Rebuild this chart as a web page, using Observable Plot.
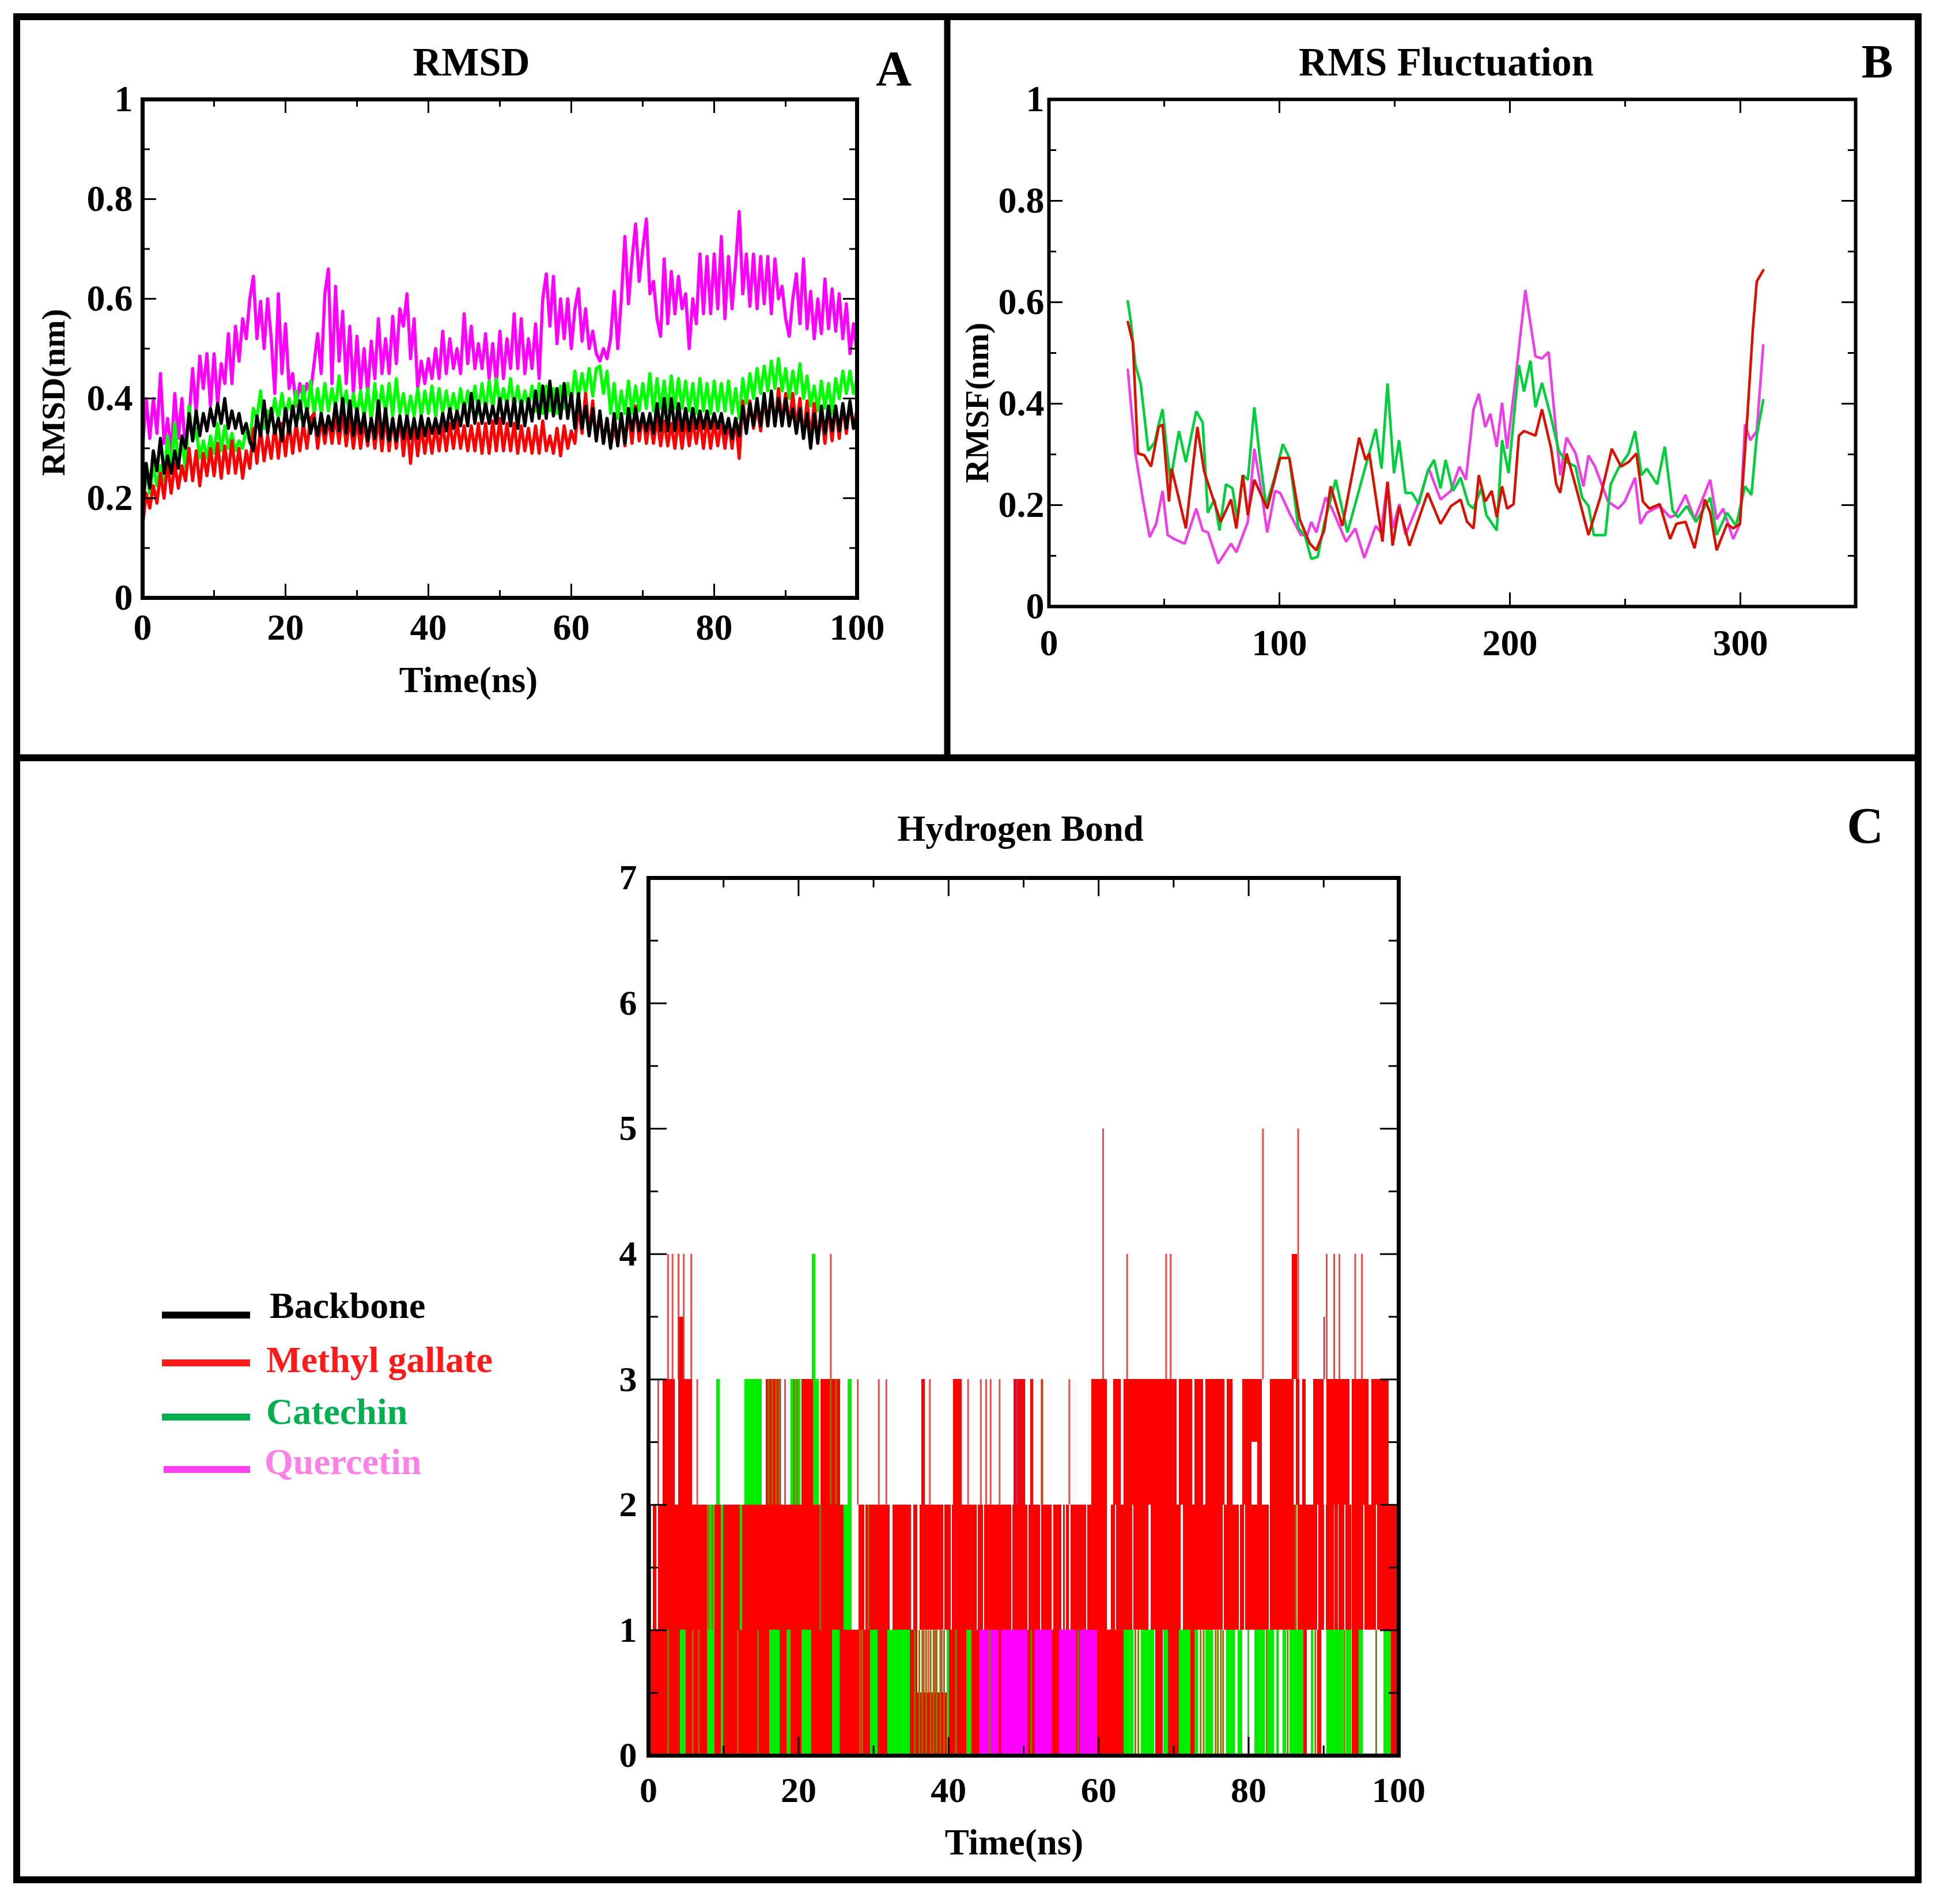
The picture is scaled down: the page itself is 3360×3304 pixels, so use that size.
<!DOCTYPE html>
<html><head><meta charset="utf-8">
<script src="https://cdn.jsdelivr.net/npm/d3@7"></script>
<script src="https://cdn.jsdelivr.net/npm/@observablehq/plot@0.6"></script>
<style>
html,body{margin:0;padding:0;background:#fff;}
body{position:relative;width:3360px;height:3304px;overflow:hidden;}
#overlay{position:absolute;left:0;top:0;}
</style></head>
<body>
<script>
const FONT = "'Liberation Serif','Times New Roman',serif";

// ---------- Panel A: RMSD (sampled every 0.5 ns) ----------
const quercetinA = [
0.30,0.40,0.32,0.40,0.33,0.45,0.31,0.36,0.29,0.41,
0.32,0.40,0.29,0.36,0.46,0.37,0.485,0.42,0.49,0.385,
0.49,0.39,0.47,0.43,0.53,0.43,0.545,0.475,0.56,0.52,
0.60,0.645,0.52,0.595,0.50,0.60,0.52,0.41,0.61,0.45,
0.55,0.42,0.45,0.385,0.43,0.40,0.43,0.41,0.47,0.53,
0.45,0.61,0.66,0.43,0.625,0.475,0.575,0.43,0.545,0.41,
0.525,0.42,0.50,0.41,0.515,0.44,0.56,0.45,0.52,0.45,
0.565,0.47,0.58,0.545,0.61,0.48,0.56,0.42,0.475,0.43,
0.48,0.44,0.50,0.44,0.535,0.45,0.52,0.46,0.50,0.45,
0.57,0.47,0.545,0.46,0.51,0.46,0.53,0.44,0.51,0.43,
0.535,0.44,0.52,0.46,0.57,0.46,0.56,0.45,0.52,0.46,
0.55,0.44,0.60,0.65,0.545,0.645,0.51,0.60,0.52,0.60,
0.50,0.58,0.62,0.515,0.58,0.50,0.535,0.49,0.475,0.50,
0.48,0.52,0.615,0.50,0.60,0.725,0.59,0.68,0.75,0.635,
0.70,0.76,0.61,0.635,0.56,0.525,0.68,0.55,0.655,0.57,
0.645,0.58,0.61,0.50,0.60,0.55,0.69,0.57,0.685,0.57,
0.69,0.58,0.725,0.56,0.685,0.58,0.67,0.775,0.61,0.69,
0.585,0.69,0.58,0.685,0.59,0.685,0.57,0.68,0.60,0.625,
0.56,0.525,0.60,0.65,0.55,0.68,0.54,0.615,0.52,0.60,
0.53,0.64,0.54,0.62,0.535,0.61,0.52,0.59,0.49,0.55,
0.49];
const catechinA = [
0.21,0.255,0.21,0.265,0.225,0.265,0.235,0.325,0.255,0.35,
0.27,0.315,0.26,0.385,0.315,0.34,0.28,0.315,0.28,0.325,
0.29,0.35,0.295,0.345,0.30,0.33,0.295,0.315,0.30,0.34,
0.31,0.38,0.36,0.415,0.34,0.375,0.355,0.40,0.36,0.41,
0.36,0.40,0.365,0.415,0.36,0.425,0.365,0.435,0.37,0.42,
0.37,0.43,0.375,0.42,0.38,0.445,0.38,0.415,0.36,0.41,
0.365,0.415,0.36,0.42,0.355,0.43,0.365,0.425,0.37,0.43,
0.365,0.44,0.37,0.41,0.36,0.405,0.365,0.42,0.365,0.415,
0.37,0.425,0.365,0.42,0.37,0.415,0.37,0.41,0.37,0.42,
0.37,0.415,0.375,0.425,0.37,0.43,0.375,0.435,0.38,0.44,
0.385,0.42,0.385,0.44,0.38,0.425,0.38,0.415,0.38,0.425,
0.375,0.43,0.37,0.425,0.375,0.42,0.37,0.425,0.38,0.43,
0.39,0.455,0.40,0.45,0.41,0.46,0.405,0.46,0.465,0.41,
0.455,0.37,0.43,0.36,0.415,0.37,0.435,0.37,0.425,0.375,
0.43,0.38,0.45,0.375,0.44,0.38,0.435,0.375,0.445,0.38,
0.44,0.38,0.435,0.375,0.43,0.37,0.44,0.375,0.43,0.37,
0.435,0.375,0.43,0.375,0.435,0.37,0.42,0.36,0.44,0.39,
0.45,0.40,0.46,0.41,0.465,0.415,0.475,0.42,0.48,0.415,
0.46,0.40,0.455,0.41,0.47,0.40,0.445,0.385,0.425,0.375,
0.435,0.38,0.43,0.37,0.44,0.40,0.455,0.41,0.455,0.41,
0.44];
const backboneA = [
0.165,0.27,0.22,0.295,0.255,0.32,0.25,0.285,0.25,0.295,
0.26,0.325,0.30,0.37,0.315,0.375,0.325,0.37,0.335,0.38,
0.345,0.39,0.35,0.40,0.34,0.375,0.34,0.37,0.33,0.35,
0.315,0.295,0.365,0.325,0.395,0.33,0.38,0.33,0.36,0.315,
0.38,0.33,0.385,0.345,0.395,0.345,0.38,0.33,0.36,0.325,
0.37,0.33,0.365,0.335,0.39,0.335,0.40,0.33,0.395,0.325,
0.38,0.33,0.37,0.315,0.36,0.32,0.395,0.32,0.38,0.315,
0.36,0.315,0.365,0.32,0.365,0.32,0.36,0.32,0.365,0.325,
0.36,0.33,0.36,0.33,0.37,0.335,0.38,0.34,0.375,0.345,
0.39,0.345,0.41,0.35,0.395,0.35,0.39,0.35,0.385,0.35,
0.40,0.35,0.395,0.345,0.40,0.34,0.395,0.345,0.40,0.355,
0.415,0.36,0.425,0.36,0.435,0.365,0.42,0.36,0.43,0.36,
0.41,0.34,0.41,0.34,0.385,0.325,0.38,0.315,0.375,0.31,
0.36,0.30,0.37,0.305,0.37,0.31,0.38,0.335,0.38,0.335,
0.37,0.335,0.37,0.33,0.39,0.335,0.40,0.335,0.40,0.335,
0.39,0.335,0.38,0.335,0.38,0.34,0.375,0.34,0.375,0.34,
0.37,0.34,0.37,0.33,0.36,0.32,0.36,0.325,0.385,0.33,
0.39,0.345,0.40,0.345,0.41,0.345,0.415,0.345,0.40,0.345,
0.40,0.345,0.38,0.33,0.38,0.32,0.37,0.30,0.37,0.31,
0.385,0.33,0.385,0.335,0.385,0.335,0.39,0.34,0.395,0.34,
0.37];
const methylA = [
0.145,0.21,0.18,0.225,0.19,0.25,0.20,0.27,0.21,0.27,
0.22,0.265,0.235,0.30,0.235,0.295,0.225,0.29,0.245,0.30,
0.245,0.31,0.24,0.305,0.25,0.315,0.25,0.30,0.24,0.295,
0.26,0.34,0.27,0.34,0.275,0.325,0.28,0.345,0.28,0.35,
0.285,0.355,0.29,0.35,0.295,0.35,0.30,0.36,0.37,0.30,
0.36,0.31,0.36,0.31,0.365,0.31,0.37,0.305,0.36,0.30,
0.36,0.30,0.355,0.305,0.36,0.30,0.36,0.295,0.365,0.295,
0.36,0.30,0.365,0.285,0.35,0.27,0.35,0.285,0.345,0.29,
0.34,0.29,0.345,0.295,0.35,0.295,0.35,0.30,0.355,0.30,
0.345,0.295,0.345,0.295,0.35,0.29,0.35,0.29,0.355,0.295,
0.36,0.295,0.35,0.295,0.35,0.29,0.345,0.295,0.34,0.29,
0.345,0.29,0.355,0.295,0.325,0.29,0.34,0.285,0.345,0.30,
0.335,0.31,0.385,0.33,0.41,0.33,0.395,0.315,0.37,0.31,
0.36,0.305,0.34,0.31,0.365,0.305,0.37,0.31,0.385,0.315,
0.37,0.31,0.36,0.31,0.36,0.305,0.355,0.305,0.35,0.30,
0.36,0.30,0.36,0.305,0.355,0.31,0.36,0.30,0.36,0.30,
0.355,0.305,0.355,0.30,0.355,0.30,0.36,0.28,0.395,0.335,
0.395,0.34,0.385,0.335,0.40,0.345,0.41,0.345,0.42,0.35,
0.41,0.345,0.41,0.34,0.40,0.32,0.395,0.32,0.39,0.315,
0.37,0.31,0.38,0.315,0.385,0.32,0.385,0.33,0.39,0.34,
0.38];
const timeA = d3.range(201).map(i => i / 2);

// ---------- Panel B: RMSF per residue ----------
const methylB_res = [34.2,36.4,38.6,41.4,44.3,47.6,49.3,52.1,53.2,56,59.4,64.4,67.3,70.1,74.5,79,81.3,84.1,86.3,89.1,94.7,100.3,104.3,108.8,113.2,116,119.4,122.2,127.3,134.6,137.4,139,144.7,146.9,149.1,152,156.4,164.3,169.9,174.4,178.6,181.4,184.2,186.5,189.3,192.1,194.3,196.6,198.8,201.6,203.9,206.1,211.1,213.9,217.9,220.1,221.8,224.6,229.1,234.1,239.2,244.2,248.2,251.5,254.9,257.7,260.5,265,269.5,272.2,276.2,280.1,284.6,286.9,289.7,294.2,296.9,299.8,303.1,305.4,307.1,309.9];
const methylB_val = [0.561,0.52,0.302,0.298,0.276,0.354,0.359,0.207,0.272,0.22,0.154,0.354,0.267,0.228,0.167,0.211,0.154,0.259,0.18,0.25,0.193,0.293,0.293,0.172,0.124,0.111,0.15,0.237,0.159,0.333,0.289,0.302,0.128,0.246,0.12,0.198,0.12,0.224,0.163,0.198,0.211,0.167,0.154,0.259,0.207,0.228,0.176,0.237,0.193,0.202,0.337,0.346,0.337,0.389,0.311,0.241,0.224,0.302,0.228,0.141,0.215,0.311,0.276,0.285,0.302,0.207,0.193,0.202,0.133,0.163,0.167,0.115,0.211,0.185,0.111,0.163,0.154,0.163,0.38,0.546,0.641,0.663];
const catechinB_res = [34.2,35.5,37.5,39.8,43.1,45.9,47.6,49.3,51,52.7,54.4,56.4,59.4,63.9,66.7,68.9,71.8,74,76.8,79.6,81.8,84.1,86.3,89.1,91.3,94.2,97.6,101.5,104.3,108.2,111,113.8,116.6,119.4,124.4,129.5,141.8,144.3,146.9,149.7,151.9,154.7,157.5,160.4,164.3,167.1,169.9,172.1,175.3,178.6,182,184.2,187.6,189.8,194.3,196.6,199.4,203.9,206.1,208.9,211.1,213.9,217.9,221.2,224.6,228.5,231.3,234.1,236.4,241.4,243.7,247,251.5,254.3,257.1,259.4,263.9,267.2,270.6,272.8,276.8,280.7,286.9,289.7,294.2,298.1,302,304.8,307.1,309.9];
const catechinB_val = [0.602,0.563,0.476,0.44,0.307,0.324,0.359,0.389,0.315,0.246,0.293,0.346,0.285,0.385,0.363,0.185,0.211,0.15,0.241,0.233,0.172,0.259,0.25,0.393,0.302,0.198,0.25,0.32,0.293,0.155,0.141,0.094,0.098,0.163,0.25,0.146,0.35,0.272,0.44,0.263,0.328,0.224,0.224,0.202,0.267,0.289,0.233,0.289,0.228,0.254,0.202,0.193,0.233,0.18,0.15,0.328,0.263,0.476,0.424,0.485,0.393,0.441,0.372,0.307,0.285,0.276,0.215,0.198,0.141,0.141,0.241,0.272,0.302,0.346,0.259,0.272,0.241,0.315,0.189,0.176,0.198,0.167,0.215,0.141,0.185,0.159,0.237,0.22,0.337,0.407];
const quercetinB_res = [34.2,37.5,40.9,43.7,46.5,49.3,51.5,54.4,58.9,63.9,66.7,69,73.4,79,81.3,86.3,89.1,91.4,94.7,98.1,100.3,104.8,109.3,112.1,113.8,116,120,122.8,128.9,132.9,136.8,141.8,144,146.9,149.1,152,154.7,159.8,164.8,169.9,174.4,178.1,180.9,184.2,186.5,189.3,191.5,194.3,196.6,198.8,202.7,206.7,211.1,213.9,216.8,221.8,224.6,228.5,231.9,234.1,236.9,242.6,247,249.8,254.3,256.6,259.4,265,269.5,271.7,276.2,280.1,286.9,289.7,292.5,296.9,299.8,302,304.3,307.1,309.9];
const quercetinB_val = [0.467,0.302,0.207,0.137,0.163,0.228,0.141,0.133,0.124,0.193,0.15,0.146,0.085,0.124,0.107,0.167,0.311,0.25,0.146,0.228,0.224,0.18,0.141,0.141,0.167,0.146,0.215,0.193,0.128,0.154,0.096,0.159,0.146,0.246,0.154,0.202,0.141,0.198,0.272,0.211,0.228,0.276,0.25,0.389,0.419,0.354,0.38,0.315,0.402,0.311,0.459,0.624,0.493,0.489,0.502,0.259,0.333,0.302,0.237,0.298,0.276,0.207,0.193,0.207,0.254,0.163,0.185,0.198,0.176,0.18,0.22,0.172,0.25,0.172,0.193,0.133,0.163,0.359,0.328,0.346,0.515];

// ---------- Panel C: hydrogen bonds ----------
// Methyl gallate 1–2 band: frames in [0,100] ns minus the gaps [t1,t2] where it leaves this band
const hbRedBandGaps = [
[0.4,0.6],[1.1,1.3],[27.1,28.0],[28.8,28.95],[32.2,32.6],[35.0,35.3],[35.9,36.2],[39.3,39.5],[40.3,40.45],[43.8,43.95],
[44.6,44.75],[48.4,48.55],[50.5,50.7],[52.2,52.35],[53.8,54.0],[55.1,55.3],[55.55,55.7],[56.1,56.3],[58.4,58.55],[61.1,61.7],
[62.2,62.35],[64.5,64.65],[66.7,67.0],[71.0,71.3],[76.6,76.75],[78.7,78.85],[79.4,79.6],[82.7,82.85],[86.4,86.55],[89.2,89.35],
[90.1,90.3],[91.4,91.5],[91.9,92.0],[92.8,92.9],[93.7,93.8],[95.3,95.45],[97.0,97.15]];
// other Methyl gallate blocks [t1, t2, low, high]
const hbRedBlocks = [
[1.9,3.5,2,3],[4.0,5.8,2,3],[15.7,17.7,2,3],[20.4,22.0,2,3],[23.0,25.6,2,3],[36.4,36.9,2,3],[40.6,41.8,2,3],[48.7,50.2,2,3],
[50.9,51.3,2,3],[59.1,61.1,2,3],[62.0,63.0,2,3],[63.4,70.4,2,3],[70.7,72.5,2,3],[72.8,74.0,2,3],[74.3,76.8,2,3],[77.1,77.9,2,3],
[79.2,80.4,2,3],[80.4,81.2,2.5,3],[81.2,81.8,2,3],[82.9,86.0,2,3],[86.3,86.8,2,3],[87.2,87.6,2,3],[88.6,90.0,2,3],[90.4,93.5,2,3],
[93.8,96.0,2,3],[96.4,98.7,2,3],
[4.0,4.7,3,3.5],[85.8,86.5,3,4],[90.0,90.2,3,3.5],
[0,35.9,0,1],[35.9,39.8,0,0.5],[39.8,44.1,0,1],[46.7,47.0,0,1],[50.5,51.5,0,1],[53.8,54.8,0,1],[57.1,57.5,0,1],[59.8,63.4,0,1],
[67.6,68.6,0,1],[69.3,70.7,0,1],[72.3,72.8,0,1],[87.3,87.8,0,1],[89.2,89.7,0,1],[93.8,94.7,0,1],[99.0,100,0,1]];
const hbGreenBlocks = [
[4.2,5.0,0,1],[7.8,8.8,0,2],[9.7,10.0,0,2],[12.2,12.5,1,2],[16.1,17.5,0,1],[18.4,19.0,0,1],[20.4,21.7,0,1],[24.5,25.5,0,1],
[26.0,27.1,1,2],[29.6,30.6,0,1],[31.9,34.9,0,1],[39.8,40.1,0,1],[42.4,43.1,0,1],
[63.4,64.7,0,1],[65.7,67.4,0,1],[68.7,69.3,0,1],[70.7,72.3,0,1],[72.8,73.3,0,1],[74.3,75.3,0,1],[77.0,78.2,0,1],[78.6,79.2,0,1],
[79.9,80.1,0,1],[80.8,82.2,0,1],[82.6,83.4,0,1],[83.7,84.0,0,1],[84.6,85.0,0,1],[85.5,87.3,0,1],[88.3,88.6,0,1],[90.4,92.7,0,1],
[93.0,93.7,0,1],[94.7,95.2,0,1],[98.0,99.0,0,1],
[9.1,9.5,2,3],[12.8,15.1,2,3],[19.0,20.3,2,3],[22.0,22.7,2,3],[26.6,27.1,2,3]];
const hbPinkBlocks = [[44.1,46.7,0,1],[47.0,50.5,0,1],[51.5,53.8,0,1],[54.8,57.1,0,1],[57.5,59.8,0,1]];
// overlapping Methyl gallate/Catechin frames (olive) [t, low, high]
const hbOverlapSpikes = [
[2.6,0,1],[5.9,0,1],[6.7,0,1],[11.9,0,1],[14.6,0,1],[28.2,0,1],[28.5,0,1],[35.5,0,1],[36.1,0,1],[36.5,0,1],[37.0,0,1],[37.6,0,1],
[38.0,0,1],[38.4,0,1],[38.9,0,1],[39.4,0,1],[41.0,0,1],[45.5,0,1],[51.0,0,1],[57.3,0,1],[64.9,0,1],[65.3,0,1],[73.6,0,1],[74.0,0,1],[75.6,0,1],
[75.9,0,1],[76.3,0,1],[76.6,0,1],[82.4,0,1],[85.2,0,1],[88.9,0,1],[92.8,0,1],[97.0,0,1],
[8.0,1,2],[8.5,1,2],[22.9,1,2],[29.3,1,2],[86.3,1,2],
[16.0,2,3],[16.5,2,3],[17.0,2,3],[17.4,2,3],[19.4,2,3],[19.8,2,3],[24.3,2,3],[25.0,2,3],[52.5,2,3]];
const hbRedSpikes = [
[1.3,2,3],[2.6,3,4],[3.2,3,4],[4.0,3,4],[4.7,3,4],[5.7,3,4],[6.5,2,3],[18.2,2,3],[24.3,3,4],[27.9,2,3],[30.7,2,3],[31.7,2,3],
[36.7,0.5,1],[37.3,0.5,1],[38.2,0.5,1],[39.1,0.5,1],
[37.5,2,3],[42.6,2,3],[44.3,2,3],[45.0,2,3],[45.6,2,3],[46.8,2,3],[52.4,2,3],[56.1,2,3],[60.6,3,5],[63.8,3,4],[69.0,3,4],
[69.6,3,4],[81.9,3,5],[86.6,3,5],[90.4,3,4],[91.4,3,4],[92.1,3,4],[94.2,3,4],[95.1,3,4]];
const hbPinkSpikes = [[49.1,2,3]];
const hbGreenSpikes = [[22.0,3,4]];

// red 1–2 band blocks from the gap list
const hbRedBand = [];
{ let s = 0; for (const [a, b] of hbRedBandGaps) { hbRedBand.push([s, a, 1, 2]); s = b; } hbRedBand.push([s, 100, 1, 2]); }

// ---------- tick values ----------
const ticksA_x = [0,20,40,60,80,100], ticksA_xMinor = [10,30,50,70,90];
const ticksA_y = [0,0.2,0.4,0.6,0.8,1], ticksA_yMinor = [0.1,0.3,0.5,0.7,0.9];
const ticksB_x = [0,100,200,300], ticksB_xMinor = [50,150,250];
const ticksC_x = [0,20,40,60,80,100], ticksC_xMinor = [10,30,50,70,90];
const ticksC_y = [0,1,2,3,4,5,6,7], ticksC_yMinor = [0.5,1.5,2.5,3.5,4.5,5.5,6.5];

function tickMarks(iw, ih, xMaj, xMin, yMaj, yMin, Lmaj, Lmin, sw) {
  const s = {stroke: "#000", strokeWidth: sw};
  return [
    Plot.ruleX(xMaj, {x: d => d, insetTop: ih - Lmaj, ...s}),
    Plot.ruleX(xMaj, {x: d => d, insetBottom: ih - Lmaj, ...s}),
    Plot.ruleX(xMin, {x: d => d, insetTop: ih - Lmin, ...s}),
    Plot.ruleX(xMin, {x: d => d, insetBottom: ih - Lmin, ...s}),
    Plot.ruleY(yMaj, {y: d => d, insetRight: iw - Lmaj, ...s}),
    Plot.ruleY(yMaj, {y: d => d, insetLeft: iw - Lmaj, ...s}),
    Plot.ruleY(yMin, {y: d => d, insetRight: iw - Lmin, ...s}),
    Plot.ruleY(yMin, {y: d => d, insetLeft: iw - Lmin, ...s})
  ];
}

function makePanel(cfg) {
  const ml = 150, mr = 40, mt = 40, mb = 130;
  const iw = cfg.right - cfg.left, ih = cfg.bottom - cfg.top;
  const svg = Plot.plot({
    width: iw + ml + mr, height: ih + mt + mb,
    marginLeft: ml, marginRight: mr, marginTop: mt, marginBottom: mb,
    x: {domain: cfg.xDomain}, y: {domain: cfg.yDomain},
    style: {background: "transparent", overflow: "visible", maxWidth: "none", fontFamily: FONT, fontWeight: "bold", color: "#000", fontSize: cfg.fs + "px"},
    marks: cfg.marks(iw, ih)
  });
  svg.style.position = "absolute";
  svg.style.left = (cfg.left - ml) + "px";
  svg.style.top = (cfg.top - mt) + "px";
  document.body.appendChild(svg);
}

function axes(xt, yt, fs, padX, padY) {
  return [
    Plot.axisX(xt, {anchor: "bottom", tickSize: 0, tickPadding: padX, fontSize: fs, fontWeight: "bold", fontFamily: FONT, label: null, tickFormat: d => String(d)}),
    Plot.axisY(yt, {anchor: "left", tickSize: 0, tickPadding: padY, fontSize: fs, fontWeight: "bold", fontFamily: FONT, label: null, tickFormat: d => String(d)})
  ];
}

// Panel A
makePanel({
  left: 247, right: 1487, top: 172, bottom: 1037, xDomain: [0, 100], yDomain: [0, 1], fs: 64,
  marks: (iw, ih) => [
    Plot.line(quercetinA, {x: (d, i) => timeA[i], y: d => d, stroke: "#ff00ff", strokeWidth: 5.5}),
    Plot.line(catechinA, {x: (d, i) => timeA[i], y: d => d, stroke: "#00ff00", strokeWidth: 5.5}),
    Plot.line(methylA, {x: (d, i) => timeA[i], y: d => d, stroke: "#ff0000", strokeWidth: 5.5}),
    Plot.line(backboneA, {x: (d, i) => timeA[i], y: d => d, stroke: "#000000", strokeWidth: 5.5}),
    ...tickMarks(iw, ih, ticksA_x, ticksA_xMinor, ticksA_y, ticksA_yMinor, 24, 13, 3),
    Plot.frame({stroke: "#000", strokeWidth: 7}),
    ...axes(ticksA_x, ticksA_y, 64, 27, 17)
  ]
});

// Panel B
makePanel({
  left: 1820, right: 3220, top: 172, bottom: 1052, xDomain: [0, 350], yDomain: [0, 1], fs: 64,
  marks: (iw, ih) => [
    Plot.line(quercetinB_val, {x: (d, i) => quercetinB_res[i], y: d => d, stroke: "#ee3ee6", strokeWidth: 4.5, strokeLinejoin: "miter"}),
    Plot.line(catechinB_val, {x: (d, i) => catechinB_res[i], y: d => d, stroke: "#00cf3c", strokeWidth: 4.5, strokeLinejoin: "miter"}),
    Plot.line(methylB_val, {x: (d, i) => methylB_res[i], y: d => d, stroke: "#d81200", strokeWidth: 4.5, strokeLinejoin: "miter"}),
    ...tickMarks(iw, ih, ticksB_x, ticksB_xMinor, ticksA_y, ticksA_yMinor, 24, 13, 3),
    Plot.frame({stroke: "#000", strokeWidth: 6}),
    ...axes(ticksB_x, ticksA_y, 64, 39, 8)
  ]
});

// Panel C
const rectOpts = (fill) => ({x1: d => d[0], x2: d => d[1], y1: d => d[2], y2: d => d[3], fill, shapeRendering: "crispEdges"});
const ruleOpts = (stroke, w, op) => ({x: d => d[0], y1: d => d[1], y2: d => d[2], stroke, strokeWidth: w, strokeOpacity: op});
makePanel({
  left: 1125, right: 2427, top: 1523, bottom: 3046, xDomain: [0, 100], yDomain: [0, 7], fs: 62,
  marks: (iw, ih) => [
    Plot.rect(hbPinkBlocks, rectOpts("#ff00ff")),
    Plot.rect(hbRedBand, rectOpts("#ff0000")),
    Plot.rect(hbRedBlocks, rectOpts("#ff0000")),
    Plot.rect(hbGreenBlocks, rectOpts("#00ee00")),
    Plot.ruleX(hbOverlapSpikes, ruleOpts("#857a00", 3, 1)),
    Plot.ruleX(hbRedSpikes, ruleOpts("#e02020", 3, 0.8)),
    Plot.ruleX(hbPinkSpikes, ruleOpts("#b02a90", 3, 1)),
    Plot.ruleX(hbGreenSpikes, ruleOpts("#00ee00", 6, 1)),
    ...tickMarks(iw, ih, ticksC_x, ticksC_xMinor, ticksC_y, ticksC_yMinor, 32, 17, 3),
    Plot.frame({stroke: "#000", strokeWidth: 7}),
    ...axes(ticksC_x, ticksC_y, 62, 36, 20)
  ]
});

// ---------- overlay: borders, titles, axis titles, legend ----------
const legendNames = ["Backbone", "Methyl gallate", "Catechin", "Quercetin"];
const legendLineColors = ["#000000", "#ff1a1a", "#00b04f", "#ff40f0"];
const legendTextColors = ["#000000", "#ff1a1a", "#00b04f", "#ff80e6"];
const legendLineY = [2282, 2365, 2459, 2550];
const legendTextX = [468, 462, 462, 459];
const legendTextY = [2287, 2381, 2471, 2558];

let legendSvg = "";
legendNames.forEach((n, i) => {
  legendSvg += `<line x1="${i === 3 ? 284 : 281}" x2="434" y1="${legendLineY[i]}" y2="${legendLineY[i]}" stroke="${legendLineColors[i]}" stroke-width="12"/>`;
  legendSvg += `<text x="${legendTextX[i]}" y="${legendTextY[i]}" fill="${legendTextColors[i]}" font-size="64">${n}</text>`;
});

const overlay = `<svg id="overlay" width="3360" height="3304" xmlns="http://www.w3.org/2000/svg" style="font-family:${FONT};font-weight:bold">
<rect x="29" y="29" width="3300" height="3233" fill="none" stroke="#000" stroke-width="12"/>
<line x1="1644" x2="1644" y1="29" y2="1315" stroke="#000" stroke-width="11"/>
<line x1="23" x2="3335" y1="1315" y2="1315" stroke="#000" stroke-width="12"/>
<text x="818" y="131" text-anchor="middle" font-size="69">RMSD</text>
<text x="1551" y="148" text-anchor="middle" font-size="86">A</text>
<text x="2510" y="131" text-anchor="middle" font-size="69">RMS Fluctuation</text>
<text x="3258" y="134" text-anchor="middle" font-size="82">B</text>
<text x="1771" y="1459" text-anchor="middle" font-size="63">Hydrogen Bond</text>
<text x="3237" y="1462" text-anchor="middle" font-size="88">C</text>
<text x="813" y="1201" text-anchor="middle" font-size="63">Time(ns)</text>
<text x="1760" y="3218" text-anchor="middle" font-size="63">Time(ns)</text>
<text transform="translate(112,681) rotate(-90)" text-anchor="middle" font-size="58">RMSD(nm)</text>
<text transform="translate(1715,699) rotate(-90)" text-anchor="middle" font-size="57">RMSF(nm)</text>
${legendSvg}
</svg>`;
document.body.insertAdjacentHTML("beforeend", overlay);
</script>
</body></html>
